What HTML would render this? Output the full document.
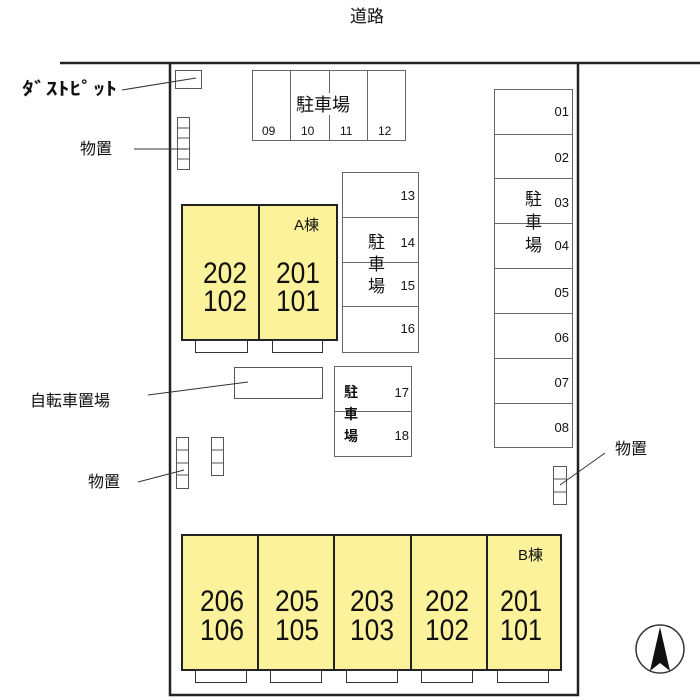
<!DOCTYPE html>
<html><head><meta charset="utf-8"><style>
html,body{margin:0;padding:0;background:#fff;width:700px;height:700px;overflow:hidden}
text{font-family:"Liberation Sans","Noto Sans CJK JP",sans-serif;fill:#111}
</style></head><body>
<svg width="700" height="700" viewBox="0 0 700 700" xmlns="http://www.w3.org/2000/svg">
<g fill="none" stroke="#222">
<path d="M60 63H700" stroke-width="2.5"/>
<path d="M170 63V695H578V63" stroke-width="2.5"/>
</g>
<text x="350" y="22" font-size="17">道路</text>
<!-- dust pit -->
<rect x="175.5" y="70.5" width="26" height="18" fill="none" stroke="#555"/>
<path d="M122 90L196 78" stroke="#333"/>
<text x="22" y="95" font-size="18" font-weight="bold" textLength="95" lengthAdjust="spacingAndGlyphs">ﾀﾞｽﾄﾋﾟｯﾄ</text>
<!-- storage left top -->
<g fill="none" stroke="#555">
<rect x="177.5" y="117.5" width="12" height="52"/>
<path d="M177 128H190M177 138H190M177 149H190M177 159H190"/>
</g>
<path d="M134 149H188" stroke="#333"/>
<text x="80" y="154" font-size="16">物置</text>
<!-- top parking -->
<g fill="none" stroke="#666">
<rect x="252.5" y="70.5" width="153" height="70"/>
<path d="M290.5 70V140M329.5 70V140M367.5 70V140"/>
</g>
<rect x="294" y="93" width="70" height="22" fill="#fff"/>
<text x="296" y="111" font-size="18">駐車場</text>
<g font-size="12"><text x="262" y="135">09</text><text x="301" y="135">10</text><text x="340" y="135">11</text><text x="378" y="135">12</text></g>
<!-- right parking -->
<g fill="none" stroke="#666">
<rect x="494.5" y="89.5" width="78" height="358"/>
<path d="M494 134.5H572M494 178.5H572M494 223.5H572M494 268.5H572M494 313.5H572M494 358.5H572M494 403.5H572"/>
</g>
<g font-size="13" text-anchor="end"><text x="569" y="116">01</text><text x="569" y="162">02</text><text x="569" y="207">03</text><text x="569" y="250">04</text><text x="569" y="297">05</text><text x="569" y="342">06</text><text x="569" y="387">07</text><text x="569" y="432">08</text></g>
<g font-size="17"><text x="525" y="205">駐</text><text x="525" y="228">車</text><text x="525" y="251">場</text></g>
<!-- middle parking 13-16 -->
<g fill="none" stroke="#666">
<rect x="342.5" y="172.5" width="76" height="180"/>
<path d="M342 217.5H418M342 262.5H418M342 306.5H418"/>
</g>
<g font-size="13" text-anchor="end"><text x="415" y="200">13</text><text x="415" y="247">14</text><text x="415" y="290">15</text><text x="415" y="333">16</text></g>
<g font-size="17"><text x="368" y="248">駐</text><text x="368" y="270">車</text><text x="368" y="292">場</text></g>
<!-- 17-18 -->
<g fill="none" stroke="#666">
<rect x="334.5" y="366.5" width="77" height="90"/>
<path d="M334 411.5H411"/>
</g>
<g font-size="13" text-anchor="end"><text x="409" y="397">17</text><text x="409" y="440">18</text></g>
<g font-size="14" font-weight="bold"><text x="344" y="397">駐</text><text x="344" y="419">車</text><text x="344" y="441">場</text></g>
<!-- A building -->
<rect x="182" y="205" width="155" height="135" fill="#fbf29b" stroke="#222" stroke-width="2"/>
<path d="M259 205V340" stroke="#222" stroke-width="2"/>
<g fill="#fff" stroke="#333"><rect x="195.5" y="340.5" width="52" height="12"/><rect x="272.5" y="340.5" width="50" height="12"/></g>
<text x="294" y="230" font-size="15">A棟</text>
<g font-size="30" lengthAdjust="spacingAndGlyphs"><text x="203" y="283" textLength="44" lengthAdjust="spacingAndGlyphs">202</text><text x="203" y="311" textLength="44" lengthAdjust="spacingAndGlyphs">102</text><text x="276" y="283" textLength="44" lengthAdjust="spacingAndGlyphs">201</text><text x="276" y="311" textLength="44" lengthAdjust="spacingAndGlyphs">101</text></g>
<!-- bicycle -->
<rect x="234.5" y="367.5" width="88" height="31" fill="none" stroke="#555"/>
<path d="M148 395L248 382" stroke="#333"/>
<text x="30" y="406" font-size="16">自転車置場</text>
<!-- storage left bottom -->
<g fill="none" stroke="#555">
<rect x="176.5" y="437.5" width="12" height="51"/><path d="M176 450H189M176 463H189M176 475H189"/>
<rect x="211.5" y="437.5" width="12" height="38"/><path d="M211 450H224M211 463H224"/>
</g>
<path d="M138 482L184 470" stroke="#333"/>
<text x="88" y="487" font-size="16">物置</text>
<!-- right storage -->
<g fill="none" stroke="#555">
<rect x="553.5" y="466.5" width="13" height="38"/><path d="M553 479H567M553 492H567"/>
</g>
<path d="M560 485L605 453" stroke="#333"/>
<text x="615" y="454" font-size="16">物置</text>
<!-- B building -->
<rect x="182" y="535" width="379" height="135" fill="#fbf29b" stroke="#222" stroke-width="2"/>
<path d="M258 535V670M334 535V670M411 535V670M487 535V670" stroke="#222" stroke-width="2"/>
<g fill="#fff" stroke="#333"><rect x="195.5" y="670.5" width="51" height="12"/><rect x="270.5" y="670.5" width="51" height="12"/><rect x="346.5" y="670.5" width="51" height="12"/><rect x="421.5" y="670.5" width="51" height="12"/><rect x="497.5" y="670.5" width="51" height="12"/></g>
<text x="518" y="560" font-size="15">B棟</text>
<g font-size="30"><text x="200" y="611" textLength="44" lengthAdjust="spacingAndGlyphs">206</text><text x="200" y="640" textLength="44" lengthAdjust="spacingAndGlyphs">106</text><text x="275" y="611" textLength="44" lengthAdjust="spacingAndGlyphs">205</text><text x="275" y="640" textLength="44" lengthAdjust="spacingAndGlyphs">105</text><text x="350" y="611" textLength="44" lengthAdjust="spacingAndGlyphs">203</text><text x="350" y="640" textLength="44" lengthAdjust="spacingAndGlyphs">103</text><text x="425" y="611" textLength="44" lengthAdjust="spacingAndGlyphs">202</text><text x="425" y="640" textLength="44" lengthAdjust="spacingAndGlyphs">102</text><text x="500" y="611" textLength="42" lengthAdjust="spacingAndGlyphs">201</text><text x="500" y="640" textLength="42" lengthAdjust="spacingAndGlyphs">101</text></g>
<!-- compass -->
<circle cx="660" cy="649" r="24" fill="none" stroke="#333" stroke-width="1.5"/>
<path d="M660 627L670 671L660 663L650 671Z" fill="#111"/>
</svg>
</body></html>
